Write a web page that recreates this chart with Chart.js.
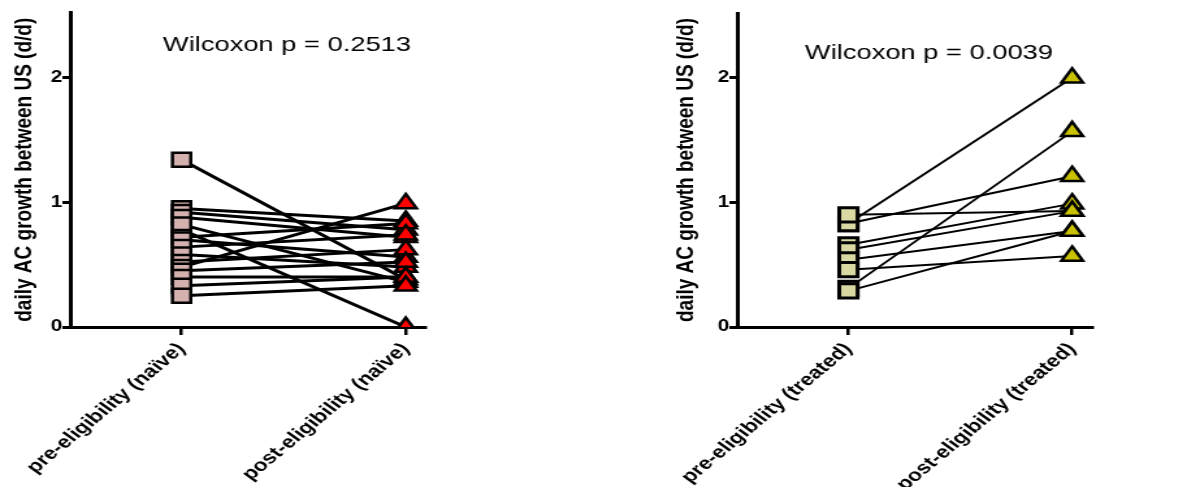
<!DOCTYPE html>
<html>
<head>
<meta charset="utf-8">
<script src="https://cdn.jsdelivr.net/npm/chart.js@4/dist/chart.umd.min.js"></script>
<style>
  html, body { margin: 0; padding: 0; background: #fff; overflow: hidden; }
  canvas { position: absolute; top: 0; transform: scaleX(1.3); transform-origin: 0 0; }
  #naiveChart { left: 0; }
  #treatedChart { left: 667px; }
</style>
</head>
<body>
<canvas id="naiveChart" width="340" height="487"></canvas>
<canvas id="treatedChart" width="340" height="487"></canvas>
<script>
// categories
const naiveCats = ['pre-eligibility (naïve)', 'post-eligibility (naïve)'];
const treatedCats = ['pre-eligibility (treated)', 'post-eligibility (treated)'];

// paired values, one entry per subject
const naivePre  = [1.34, 0.78, 0.95, 0.92, 0.88, 0.82, 0.72, 0.70, 0.64, 0.58, 0.52, 0.48, 0.45, 0.40, 0.33, 0.25];
const naivePost = [0.38, 0.00, 0.85, 0.78, 0.72, 0.36, 0.83, 0.56, 0.74, 0.48, 0.62, 0.99, 0.52, 0.40, 0.40, 0.33];

const treatedPre  = [0.83, 0.31, 0.83, 0.90, 0.66, 0.62, 0.54, 0.46, 0.29];
const treatedPost = [2.00, 1.57, 1.21, 0.93, 0.99, 0.93, 0.77, 0.57, 0.77];

const yTicks = [0, 1, 2];
const naiveP = '0.2513';
const treatedP = '0.0039';

const FONT = '"Liberation Sans", Arial, sans-serif';

// draws the Wilcoxon note at a spot given in data units
const notePlugin = {
  id: 'note',
  afterDraw(chart) {
    const o = chart.options.plugins.note;
    const ctx = chart.ctx;
    ctx.save();
    ctx.font = '21px ' + FONT;
    ctx.fillStyle = '#000';
    ctx.textAlign = 'center';
    ctx.textBaseline = 'middle';
    ctx.fillText(o.text, chart.scales.x.getPixelForValue(o.x), chart.scales.y.getPixelForValue(o.y));
    ctx.restore();
  }
};

function pairedChart(id, cats, pre, post, st) {
  const datasets = [];
  datasets.push({
    data: post.map(v => ({ x: 1, y: v })),
    showLine: false,
    pointStyle: 'triangle',
    pointRadius: 9.5,
    pointBackgroundColor: st.postColor,
    pointBorderColor: '#000',
    pointBorderWidth: 2.5,
    order: 0
  });
  datasets.push({
    data: pre.map(v => ({ x: 0, y: v })),
    showLine: false,
    pointStyle: 'rect',
    pointRadius: 10,
    pointBackgroundColor: st.preColor,
    pointBorderColor: '#000',
    pointBorderWidth: st.sqBorder,
    order: 1
  });
  pre.forEach((v, i) => {
    datasets.push({
      data: [{ x: 0, y: v }, { x: 1, y: post[i] }],
      showLine: true,
      borderColor: '#000',
      borderWidth: st.lineWidth,
      pointRadius: 0,
      order: 2
    });
  });

  return new Chart(document.getElementById(id), {
    type: 'scatter',
    data: { datasets },
    plugins: [notePlugin],
    options: {
      responsive: false,
      animation: false,
      layout: { padding: { top: 12, right: 9, left: 0, bottom: 0 } },
      plugins: {
        legend: { display: false },
        tooltip: { enabled: false },
        note: { text: 'Wilcoxon p = ' + st.p, x: st.noteX, y: st.noteY }
      },
      scales: {
        x: {
          type: 'linear',
          min: -0.497,
          max: 1.089,
          afterBuildTicks: s => { s.ticks = [{ value: 0 }, { value: 1 }]; },
          afterFit: s => { s.height = 160; s.paddingLeft = 0; s.paddingRight = 0; },
          border: { color: '#000', width: 3 },
          grid: { drawOnChartArea: false, drawTicks: true, tickLength: 8, color: '#000', lineWidth: 2.5 },
          ticks: {
            callback: v => cats[v],
            minRotation: 47,
            maxRotation: 47,
            autoSkip: false,
            padding: 4,
            color: '#000',
            font: { family: FONT, size: 17.5, weight: 'bold' }
          }
        },
        y: {
          min: 0,
          max: 2.52,
          afterBuildTicks: s => { s.ticks = yTicks.map(v => ({ value: v })); },
          afterFit: s => { s.width = 54; },
          border: { color: '#000', width: 3 },
          grid: { drawOnChartArea: false, drawTicks: true, tickLength: 6, color: '#000', lineWidth: 3 },
          ticks: {
            padding: 0,
            color: '#000',
            font: { family: FONT, size: 16, weight: 'bold' }
          },
          title: {
            display: true,
            text: 'daily AC growth between US (d/d)',
            color: '#000',
            padding: { top: st.titlePad, bottom: 0 },
            font: { family: FONT, size: 19, weight: 'bold' }
          }
        }
      }
    }
  });
}

pairedChart('naiveChart', naiveCats, naivePre, naivePost, {
  preColor: '#d4b1ae', postColor: '#ff0000', sqBorder: 2.5, lineWidth: 3,
  p: naiveP, noteX: 0.47, noteY: 2.26, titlePad: 7
});

pairedChart('treatedChart', treatedCats, treatedPre, treatedPost, {
  preColor: '#d9d8a2', postColor: '#c9c200', sqBorder: 3, lineWidth: 2,
  p: treatedP, noteX: 0.36, noteY: 2.2, titlePad: 3
});
</script>
</body>
</html>
